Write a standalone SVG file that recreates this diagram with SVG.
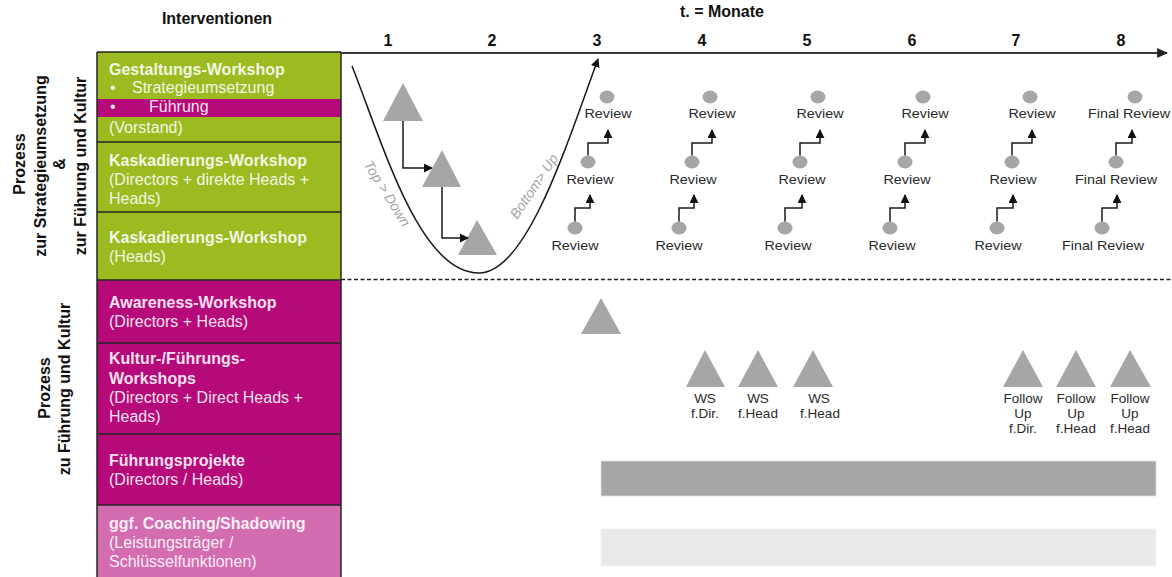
<svg xmlns="http://www.w3.org/2000/svg" width="1172" height="577" viewBox="0 0 1172 577">
<defs>
<style>
text{font-family:"Liberation Sans",Arial,sans-serif}
.hd{font-size:16px;font-weight:bold;fill:#111;text-anchor:middle}
.rl{font-size:16px;font-weight:bold;fill:#111;text-anchor:middle}
.t{font-size:16px;fill:#fff;fill-opacity:.9}
.tb{font-size:16px;font-weight:bold;fill:#fff;fill-opacity:.9}
.g{fill:#9bbb21}
.m{fill:#b70a7a}
.p{fill:#d46db0}
.bd{stroke:#262626;stroke-width:1.5;fill:none}
.tri{fill:#a6a6a6}
.dot{fill:#a6a6a6}
.rv{font-size:13px;fill:#2a2a2a;text-anchor:middle}
.lb{font-size:13.5px;fill:#2a2a2a;text-anchor:middle}
.ln{fill:none;stroke:#1a1a1a;stroke-width:1.5}
.cv{font-size:14px;font-style:italic;fill:#a3a3a3;text-anchor:middle}
</style>
<marker id="ah" viewBox="0 0 10 10" refX="9" refY="5" markerWidth="9" markerHeight="9" markerUnits="userSpaceOnUse" orient="auto"><path d="M0,0L10,5L0,10z" fill="#111"/></marker>
<marker id="ahx" viewBox="0 0 10 10" refX="9" refY="5" markerWidth="11" markerHeight="11" markerUnits="userSpaceOnUse" orient="auto"><path d="M0,0.5L10,5L0,9.5z" fill="#222"/></marker>
</defs>
<rect width="1172" height="577" fill="#fff"/>

<!-- headers -->
<g id="headers">
<text class="hd" x="217" y="24">Interventionen</text>
<text class="hd" x="722" y="17">t. = Monate</text>
<text class="hd" x="388" y="46">1</text>
<text class="hd" x="492" y="46">2</text>
<text class="hd" x="597" y="46">3</text>
<text class="hd" x="702" y="46">4</text>
<text class="hd" x="807" y="46">5</text>
<text class="hd" x="912" y="46">6</text>
<text class="hd" x="1016" y="46">7</text>
<text class="hd" x="1121" y="46">8</text>
</g>

<!-- side labels -->
<g id="label-top">
<text class="rl" transform="translate(25,164) rotate(-90)">Prozess</text>
<text class="rl" transform="translate(45.5,166) rotate(-90)">zur Strategieumsetzung</text>
<text class="rl" transform="translate(65,164) rotate(-90)">&amp;</text>
<text class="rl" transform="translate(86,166) rotate(-90)">zur Führung  und Kultur</text>
</g>
<g id="label-bottom">
<text class="rl" transform="translate(49.5,388) rotate(-90)">Prozess</text>
<text class="rl" transform="translate(70,389) rotate(-90)">zu Führung und Kultur</text>
</g>

<!-- intervention rows -->
<g id="row-gestaltung">
<rect class="g" x="97" y="52" width="244" height="90"/>
<rect class="m" x="97" y="99" width="244" height="18"/>
<text class="tb" x="109" y="75">Gestaltungs-Workshop</text>
<text class="t" x="110" y="93">•</text><text class="t" x="132" y="93">Strategieumsetzung</text>
<text class="t" x="110" y="112">•</text><text class="t" x="149" y="112">Führung</text>
<text class="t" x="109" y="133">(Vorstand)</text>
</g>
<g id="row-kaskad1">
<rect class="g" x="97" y="142" width="244" height="70"/>
<text class="tb" x="109" y="166">Kaskadierungs-Workshop</text>
<text class="t" x="109" y="185">(Directors + direkte Heads +</text>
<text class="t" x="109" y="204">Heads)</text>
</g>
<g id="row-kaskad2">
<rect class="g" x="97" y="212" width="244" height="68"/>
<text class="tb" x="109" y="243">Kaskadierungs-Workshop</text>
<text class="t" x="109" y="262">(Heads)</text>
</g>
<g id="row-awareness">
<rect class="m" x="97" y="280" width="244" height="63"/>
<text class="tb" x="109" y="308">Awareness-Workshop</text>
<text class="t" x="109" y="327">(Directors + Heads)</text>
</g>
<g id="row-kultur">
<rect class="m" x="97" y="343" width="244" height="91"/>
<text class="tb" x="109" y="364">Kultur-/Führungs-</text>
<text class="tb" x="109" y="384">Workshops</text>
<text class="t" x="109" y="403">(Directors + Direct Heads +</text>
<text class="t" x="109" y="422">Heads)</text>
</g>
<g id="row-projekte">
<rect class="m" x="97" y="434" width="244" height="71"/>
<text class="tb" x="109" y="466">Führungsprojekte</text>
<text class="t" x="109" y="485">(Directors / Heads)</text>
</g>
<g id="row-coaching">
<rect class="p" x="97" y="505" width="244" height="72"/>
<text class="tb" x="109" y="529">ggf. Coaching/Shadowing</text>
<text class="t" x="109" y="548">(Leistungsträger /</text>
<text class="t" x="109" y="567">Schlüsselfunktionen)</text>
</g>
<g id="row-borders">
<path class="bd" d="M97,52H341M97,142H341M97,212H341M97,280H341M97,343H341M97,434H341M97,505H341M97,52V577M341,52V577"/>
</g>

<!-- top section nodes -->
<g id="ws-gestaltung"><polygon class="tri" points="403,83 423,121 383,121"/></g>
<g id="ws-kaskad1"><polygon class="tri" points="442,150 461,187 422,187"/></g>
<g id="ws-kaskad2"><polygon class="tri" points="477,220 497,255 458,255"/></g>
<text class="cv" transform="translate(383,196) rotate(58)">Top &gt; Down</text>
<text class="cv" transform="translate(538,189) rotate(-56)">Bottom&gt; Up</text>

<g id="reviews">
<g id="review-m3">
<ellipse class="dot" cx="607" cy="97" rx="7.5" ry="6.5"/><ellipse class="dot" cx="588" cy="162" rx="7.5" ry="6.5"/><ellipse class="dot" cx="575" cy="228" rx="7.5" ry="6.5"/>
<text class="rv" x="608" y="118" textLength="47" lengthAdjust="spacingAndGlyphs">Review</text>
<text class="rv" x="590" y="184" textLength="47" lengthAdjust="spacingAndGlyphs">Review</text>
<text class="rv" x="575" y="250" textLength="47" lengthAdjust="spacingAndGlyphs">Review</text>
</g>
<g id="review-m4">
<ellipse class="dot" cx="710" cy="97" rx="7.5" ry="6.5"/><ellipse class="dot" cx="692" cy="162" rx="7.5" ry="6.5"/><ellipse class="dot" cx="679" cy="228" rx="7.5" ry="6.5"/>
<text class="rv" x="712" y="118" textLength="47" lengthAdjust="spacingAndGlyphs">Review</text>
<text class="rv" x="693" y="184" textLength="47" lengthAdjust="spacingAndGlyphs">Review</text>
<text class="rv" x="679" y="250" textLength="47" lengthAdjust="spacingAndGlyphs">Review</text>
</g>
<g id="review-m5">
<ellipse class="dot" cx="818" cy="97" rx="7.5" ry="6.5"/><ellipse class="dot" cx="800" cy="162" rx="7.5" ry="6.5"/><ellipse class="dot" cx="785" cy="228" rx="7.5" ry="6.5"/>
<text class="rv" x="820" y="118" textLength="47" lengthAdjust="spacingAndGlyphs">Review</text>
<text class="rv" x="802" y="184" textLength="47" lengthAdjust="spacingAndGlyphs">Review</text>
<text class="rv" x="788" y="250" textLength="47" lengthAdjust="spacingAndGlyphs">Review</text>
</g>
<g id="review-m6">
<ellipse class="dot" cx="923" cy="97" rx="7.5" ry="6.5"/><ellipse class="dot" cx="905" cy="162" rx="7.5" ry="6.5"/><ellipse class="dot" cx="890" cy="228" rx="7.5" ry="6.5"/>
<text class="rv" x="925" y="118" textLength="47" lengthAdjust="spacingAndGlyphs">Review</text>
<text class="rv" x="907" y="184" textLength="47" lengthAdjust="spacingAndGlyphs">Review</text>
<text class="rv" x="892" y="250" textLength="47" lengthAdjust="spacingAndGlyphs">Review</text>
</g>
<g id="review-m7">
<ellipse class="dot" cx="1030" cy="97" rx="7.5" ry="6.5"/><ellipse class="dot" cx="1012" cy="162" rx="7.5" ry="6.5"/><ellipse class="dot" cx="997" cy="228" rx="7.5" ry="6.5"/>
<text class="rv" x="1032" y="118" textLength="47" lengthAdjust="spacingAndGlyphs">Review</text>
<text class="rv" x="1013" y="184" textLength="47" lengthAdjust="spacingAndGlyphs">Review</text>
<text class="rv" x="998" y="250" textLength="47" lengthAdjust="spacingAndGlyphs">Review</text>
</g>
<g id="review-m8">
<ellipse class="dot" cx="1135" cy="97" rx="7.5" ry="6.5"/><ellipse class="dot" cx="1116" cy="162" rx="7.5" ry="6.5"/><ellipse class="dot" cx="1102" cy="228" rx="7.5" ry="6.5"/>
<text class="rv" x="1129" y="118" textLength="82" lengthAdjust="spacingAndGlyphs">Final Review</text>
<text class="rv" x="1116" y="184" textLength="82" lengthAdjust="spacingAndGlyphs">Final Review</text>
<text class="rv" x="1103" y="250" textLength="82" lengthAdjust="spacingAndGlyphs">Final Review</text>
</g>
</g>

<!-- bottom section nodes -->
<g id="ws-awareness"><polygon class="tri" points="601,298 621,334 581,334"/></g>
<g id="ws-kultur-dir"><polygon class="tri" points="705,350 725,387 686,387"/><text class="lb" x="705" y="403">WS</text><text class="lb" x="705" y="418">f.Dir.</text></g>
<g id="ws-kultur-head1"><polygon class="tri" points="758,350 778,387 738,387"/><text class="lb" x="758" y="403">WS</text><text class="lb" x="758" y="418">f.Head</text></g>
<g id="ws-kultur-head2"><polygon class="tri" points="813,350 833,387 793,387"/><text class="lb" x="819" y="403">WS</text><text class="lb" x="820" y="418">f.Head</text></g>
<g id="followup-dir"><polygon class="tri" points="1023,350 1043,387 1003,387"/><text class="lb" x="1023" y="403">Follow</text><text class="lb" x="1023" y="418">Up</text><text class="lb" x="1023" y="433">f.Dir.</text></g>
<g id="followup-head1"><polygon class="tri" points="1076,350 1096,387 1056,387"/><text class="lb" x="1076" y="403">Follow</text><text class="lb" x="1076" y="418">Up</text><text class="lb" x="1076" y="433">f.Head</text></g>
<g id="followup-head2"><polygon class="tri" points="1130,350 1151,387 1110,387"/><text class="lb" x="1130" y="403">Follow</text><text class="lb" x="1130" y="418">Up</text><text class="lb" x="1130" y="433">f.Head</text></g>
<g id="bar-projekte"><rect x="601" y="461" width="555" height="35" fill="#a6a6a6" stroke="#e0e0e0" stroke-width="0.8"/></g>
<g id="bar-coaching"><rect x="601" y="529" width="555" height="37" fill="#e9e9e9" stroke="#f4f4f4" stroke-width="0.8"/></g>

<!-- connectors -->
<g id="connectors">
<path d="M341,53H1167" fill="none" stroke="#3a3a3a" stroke-width="2" marker-end="url(#ahx)"/>
<path d="M341,279.5H1172" fill="none" stroke="#222" stroke-width="1.3" stroke-dasharray="4,2.5"/>
<path class="ln" d="M352,66C385,150 420,273 479,273C526,273 565,150 598,59" marker-end="url(#ah)"/>
<path class="ln" d="M403,121V168H432" marker-end="url(#ah)"/>
<path class="ln" d="M442,187V238H468" marker-end="url(#ah)"/>
<path class="ln" d="M588,155.5V143H608V130" marker-end="url(#ah)"/>
<path class="ln" d="M575,221.5V208H590V195" marker-end="url(#ah)"/>
<path class="ln" d="M692,155.5V143H712V130" marker-end="url(#ah)"/>
<path class="ln" d="M679,221.5V208H694V195" marker-end="url(#ah)"/>
<path class="ln" d="M800,155.5V143H820V130" marker-end="url(#ah)"/>
<path class="ln" d="M785,221.5V208H802V195" marker-end="url(#ah)"/>
<path class="ln" d="M905,155.5V143H925V130" marker-end="url(#ah)"/>
<path class="ln" d="M890,221.5V208H905V195" marker-end="url(#ah)"/>
<path class="ln" d="M1012,155.5V143H1032V130" marker-end="url(#ah)"/>
<path class="ln" d="M997,221.5V208H1013V195" marker-end="url(#ah)"/>
<path class="ln" d="M1116,155.5V143H1132V130" marker-end="url(#ah)"/>
<path class="ln" d="M1102,221.5V208H1117V195" marker-end="url(#ah)"/>
</g>
</svg>
